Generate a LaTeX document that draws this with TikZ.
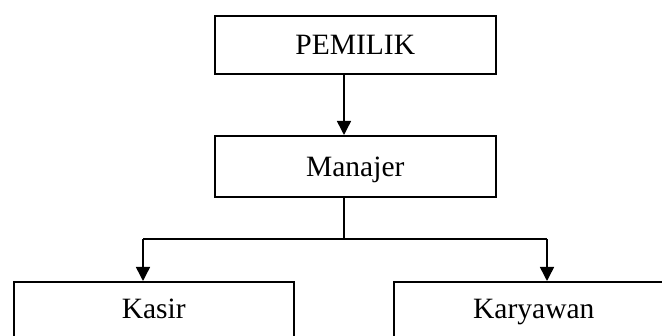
\documentclass[tikz,border=0pt]{standalone}
\usepackage{fontspec}
\setmainfont{Liberation Serif}
\usetikzlibrary{arrows.meta}
\begin{document}
\begin{tikzpicture}[x=1pt,y=-1pt,
  box/.style={draw,line width=1.6pt,inner sep=0pt,anchor=north west,
    font=\fontsize{29.5}{34}\selectfont,text height=19.5pt},
  topbox/.style={box,text depth=0pt},
  lowbox/.style={box,text depth=8pt},
  conn/.style={line width=1.5pt},
  arr/.style={conn,-{Triangle[width=14pt,length=14pt]}}]
\useasboundingbox (0,0) rectangle (662,336);
\clip (0,0) rectangle (662,336);
\node[topbox,minimum width=281pt,minimum height=58pt] (pem) at (214,15) {PEMILIK};
\node[topbox,minimum width=281pt,minimum height=61pt] (man) at (214,135) {Manajer};
\node[lowbox,minimum width=280pt,minimum height=61pt] (kas) at (13,281) {Kasir};
\node[lowbox,minimum width=280pt,minimum height=61pt] (kar) at (393,281) {Karyawan};
\coordinate (jn) at (344,239);
\coordinate (ka) at (143,239);
\coordinate (kb) at (547,239);
\draw[arr] (pem.south -| jn) -- (man.north -| jn);
\draw[conn] (man.south -| jn) -- (jn);
\draw[conn] (ka) -- (kb);
\draw[arr] (ka) -- (kas.north -| ka);
\draw[arr] (kb) -- (kar.north -| kb);
\end{tikzpicture}
\end{document}
